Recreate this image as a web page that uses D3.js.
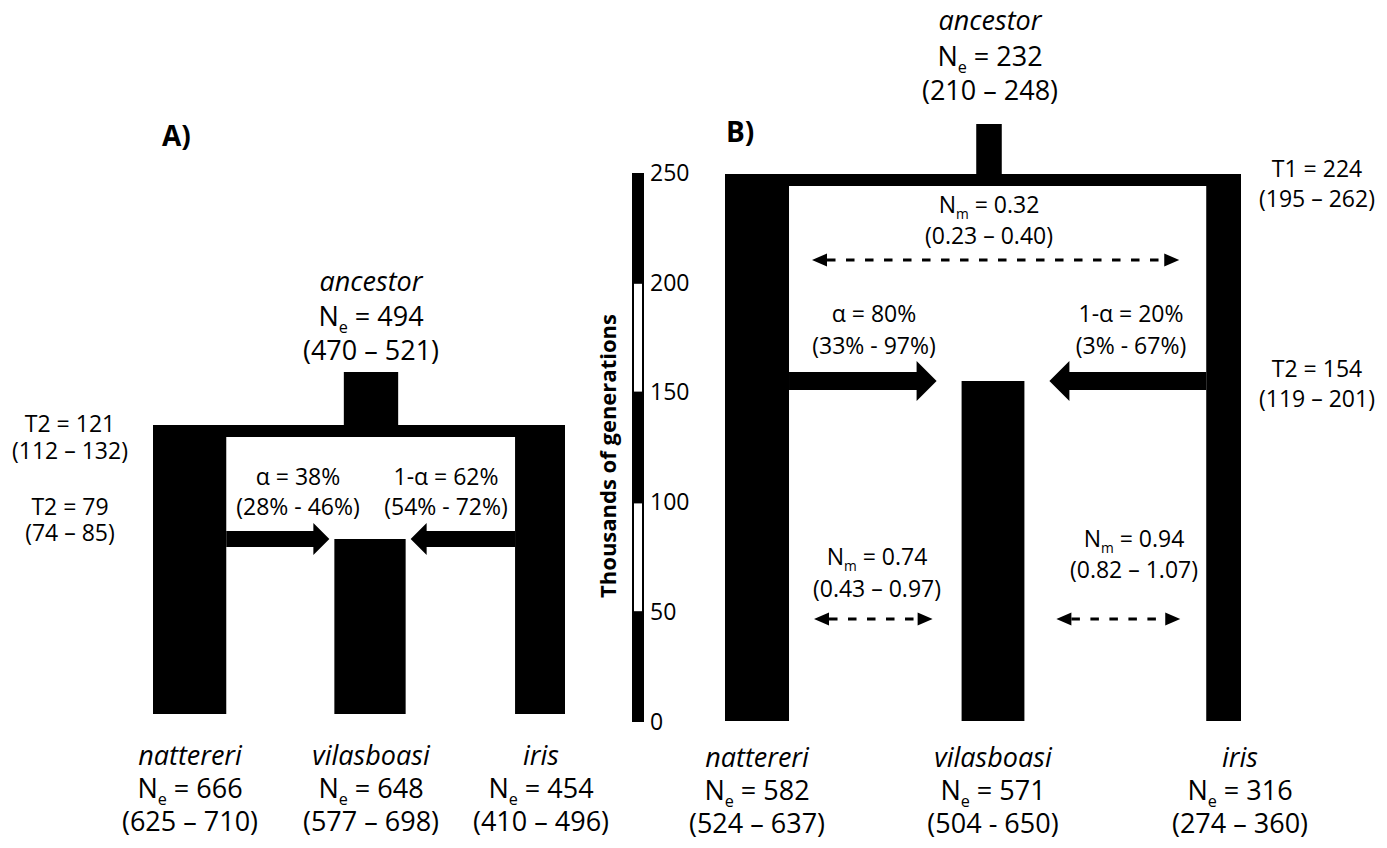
<!DOCTYPE html>
<html>
<head>
<meta charset="utf-8">
<script src="https://cdn.jsdelivr.net/npm/d3@7/dist/d3.min.js"></script>
<style>
  body { margin: 0; background: #fff; }
  svg text { font-family: "Open Sans", sans-serif; fill: #000; }
</style>
</head>
<body>
<svg id="chart" width="1387" height="848"></svg>
<script>
// tip populations
var pops = ["nattereri", "vilasboasi", "iris"];

// model A: Ne of tips + 95% CI, ancestor
var neA = [666, 648, 454];
var ciA = [[625, 710], [577, 698], [410, 496]];
var ancNeA = 494, ancCiA = [470, 521];
// split / admixture times (thousands of generations)
var timesA = [{name: "T2", value: 121, ci: [112, 132]}, {name: "T2", value: 79, ci: [74, 85]}];
// admixture alpha (%) with CI
var alphaA = {value: 38, ci: [28, 46]};

// model B
var neB = [582, 571, 316];
var ciB = [[524, 637], [504, 650], [274, 360]];
var ciSepB = ["–", "-", "–"];
var ancNeB = 232, ancCiB = [210, 248];
var timesB = [{name: "T1", value: 224, ci: [195, 262]}, {name: "T2", value: 154, ci: [119, 201]}];
var alphaB = {value: 80, ci: [33, 97]};
// migration rates Nm: ancestral pair, nattereri-vilasboasi, vilasboasi-iris
var migB = [{value: "0.32", ci: ["0.23", "0.40"]},
            {value: "0.74", ci: ["0.43", "0.97"]},
            {value: "0.94", ci: ["0.82", "1.07"]}];

// time scale bar
var genTicks = [0, 50, 100, 150, 200, 250];

var svg = d3.select("#chart");

// bar width encodes Ne
var neWidth = d3.scaleLinear().domain([0, 1000]).range([0, 110]);
// time scale of the legend bar
var gen = d3.scaleLinear().domain([0, 250]).range([722, 173]);

function neLabel(g, x, y, val, size, sub) {
    var t = g.append("text")
        .attr("x", x).attr("y", y)
        .attr("text-anchor", "middle")
        .attr("font-size", size);
    t.append("tspan").text("N");
    t.append("tspan").attr("font-size", size * 0.6).attr("dy", size * 0.27).text(sub);
    t.append("tspan").attr("dy", -size * 0.27).text(" = " + val);
}

function plainText(g, x, y, str, size, italic) {
    g.append("text")
        .attr("x", x).attr("y", y)
        .attr("text-anchor", "middle")
        .attr("font-size", size)
        .attr("font-style", italic ? "italic" : "normal")
        .text(str);
}

function ciText(ci, sep) {
    return "(" + ci[0] + " " + (sep || "–") + " " + ci[1] + ")";
}

function blockArrow(g, x0, x1, yc, sh, hh, hl) {
    var dir = x1 > x0 ? 1 : -1;
    var xb = x1 - dir * hl;
    var pts = [[x0, yc - sh], [xb, yc - sh], [xb, yc - hh], [x1, yc],
               [xb, yc + hh], [xb, yc + sh], [x0, yc + sh]];
    g.append("path")
        .attr("d", d3.line()(pts) + "Z")
        .attr("fill", "#000");
}

function dashArrow(g, x0, x1, yc) {
    var hl = 15, hh = 6.5;
    g.append("line")
        .attr("x1", x0 + hl).attr("x2", x1 - hl)
        .attr("y1", yc).attr("y2", yc)
        .attr("stroke", "#000").attr("stroke-width", 2.8)
        .attr("stroke-dasharray", "8.5,10.5");
    [[x0, 1], [x1, -1]].forEach(function(p) {
        var pts = [[p[0], yc], [p[0] + p[1] * hl, yc - hh], [p[0] + p[1] * hl, yc + hh]];
        g.append("path").attr("d", d3.line()(pts) + "Z").attr("fill", "#000");
    });
}

// draws the three-branch tree of one model
function drawTree(opt) {
    var g = svg.append("g");
    var y = opt.y;
    var w = opt.ne.map(neWidth);
    var wa = neWidth(opt.ancNe);
    var tTop = y(opt.times[0].value);
    var tAdm = y(opt.times[1].value);
    var y0 = y(0);
    var midL = opt.midX - w[1] / 2, midR = opt.midX + w[1] / 2;

    var rects = [
        {x: opt.left, y: tTop, w: w[0], h: y0 - tTop},
        {x: opt.right - w[2], y: tTop, w: w[2], h: y0 - tTop},
        {x: midL, y: tAdm, w: w[1], h: y0 - tAdm},
        {x: opt.left, y: tTop, w: opt.right - opt.left, h: opt.barH},
        {x: opt.ancX - wa / 2, y: tTop - opt.stemH, w: wa, h: opt.stemH}
    ];
    g.selectAll("rect").data(rects).enter().append("rect")
        .attr("x", function(d) { return d.x; })
        .attr("y", function(d) { return d.y; })
        .attr("width", function(d) { return d.w; })
        .attr("height", function(d) { return d.h; })
        .attr("fill", "#000");

    // admixture arrows
    var a = opt.arrow;
    blockArrow(g, opt.left + w[0], midL - a.gap, tAdm, a.sh, a.hh, a.hl);
    blockArrow(g, opt.right - w[2], midR + a.gap, tAdm, a.sh, a.hh, a.hl);

    // tip labels
    pops.forEach(function(p, i) {
        var lx = opt.tipLabelX[i];
        plainText(g, lx, opt.tipY[0], p, 27, true);
        neLabel(g, lx, opt.tipY[1], opt.ne[i], 27, "e");
        plainText(g, lx, opt.tipY[2], ciText(opt.ci[i], opt.ciSep ? opt.ciSep[i] : "–"), 27);
    });

    // ancestor label
    plainText(g, opt.ancLabelX, opt.ancY[0], "ancestor", 27, true);
    neLabel(g, opt.ancLabelX, opt.ancY[1], opt.ancNe, 27, "e");
    plainText(g, opt.ancLabelX, opt.ancY[2], ciText(opt.ancCi), 27);

    // alpha labels
    var al = opt.alpha;
    plainText(g, opt.alphaX[0], opt.alphaY[0], "α = " + al.value + "%", 23);
    plainText(g, opt.alphaX[0], opt.alphaY[1], "(" + al.ci[0] + "% - " + al.ci[1] + "%)", 23);
    plainText(g, opt.alphaX[1], opt.alphaY[0], "1-α = " + (100 - al.value) + "%", 23);
    plainText(g, opt.alphaX[1], opt.alphaY[1], "(" + (100 - al.ci[1]) + "% - " + (100 - al.ci[0]) + "%)", 23);

    // time labels
    opt.times.forEach(function(t, i) {
        plainText(g, opt.timeX, opt.timeY[i][0], t.name + " = " + t.value, 23);
        plainText(g, opt.timeX, opt.timeY[i][1], ciText(t.ci), 23);
    });

    // panel letter
    g.append("text")
        .attr("x", opt.letter[0]).attr("y", opt.letter[1])
        .attr("font-size", 28).attr("font-weight", "bold")
        .text(opt.letter[2]);

    return {g: g, w: w, midL: midL, midR: midR};
}

// ---------- panel A ----------
var treeA = drawTree({
    ne: neA, ci: ciA, ancNe: ancNeA, ancCi: ancCiA, times: timesA, alpha: alphaA,
    y: d3.scaleLinear().domain([0, 79, 121]).range([714, 539, 425]),
    left: 153, right: 565, midX: 370, ancX: 371,
    barH: 12, stemH: 53,
    arrow: {gap: 5, sh: 8, hh: 16, hl: 16},
    tipLabelX: [190, 371, 541], tipY: [765, 798, 831],
    ancLabelX: 371, ancY: [291, 326, 360],
    alphaX: [298, 446], alphaY: [485, 515],
    timeX: 70, timeY: [[432, 459], [515, 541]],
    letter: [162, 146, "A)"]
});

// ---------- panel B ----------
var yB = d3.scaleLinear().domain([0, 154, 224]).range([721, 381, 174]);
var treeB = drawTree({
    ne: neB, ci: ciB, ciSep: ciSepB, ancNe: ancNeB, ancCi: ancCiB, times: timesB, alpha: alphaB,
    y: yB,
    left: 725, right: 1241, midX: 993, ancX: 989,
    barH: 12, stemH: 50,
    arrow: {gap: 25, sh: 9, hh: 20, hl: 20},
    tipLabelX: [757, 993, 1240], tipY: [767, 800, 833],
    ancLabelX: 990, ancY: [30, 66, 100],
    alphaX: [874, 1131], alphaY: [322, 354],
    timeX: 1317, timeY: [[177, 207], [377, 407]],
    letter: [726, 142, "B)"]
});

// migration arrows and labels in B
var gB = treeB.g;
var innerL = 725 + treeB.w[0], innerR = 1241 - treeB.w[2];
var migPos = [
    {x0: innerL + 23, x1: innerR - 27, y: 260, lx: 989, ly: [213, 244]},
    {x0: innerL + 25, x1: treeB.midL - 29, y: 619, lx: 877, ly: [565, 597]},
    {x0: treeB.midR + 32, x1: innerR - 26, y: 619, lx: 1134, ly: [547, 578]}
];
migB.forEach(function(m, i) {
    var p = migPos[i];
    dashArrow(gB, p.x0, p.x1, p.y);
    neLabel(gB, p.lx, p.ly[0], m.value, 23, "m");
    plainText(gB, p.lx, p.ly[1], ciText(m.ci), 23);
});

// ---------- time scale bar ----------
var gs = svg.append("g");
gs.append("rect")
    .attr("x", 632).attr("y", gen(250))
    .attr("width", 12).attr("height", gen(0) - gen(250))
    .attr("fill", "#000");
// alternating white segments
var segs = [[150, 200], [50, 100]];
gs.selectAll(".seg").data(segs).enter().append("rect")
    .attr("class", "seg")
    .attr("x", 634).attr("width", 8)
    .attr("y", function(d) { return gen(d[1]) + 1; })
    .attr("height", function(d) { return gen(d[0]) - gen(d[1]) - 2; })
    .attr("fill", "#fff");

var axis = gs.append("g")
    .attr("transform", "translate(644,0)")
    .call(d3.axisRight(gen).tickValues(genTicks).tickSize(0).tickPadding(6));
axis.select(".domain").remove();
axis.selectAll("text")
    .attr("font-size", 23)
    .attr("font-family", "Open Sans, sans-serif")
    .attr("fill", "#000");

gs.append("text")
    .attr("transform", "translate(616,456) rotate(-90)")
    .attr("text-anchor", "middle")
    .attr("font-size", 22)
    .attr("font-weight", "bold")
    .text("Thousands of generations");
</script>
</body>
</html>
